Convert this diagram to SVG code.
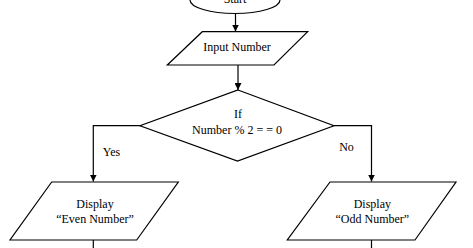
<svg xmlns="http://www.w3.org/2000/svg" width="473" height="248" viewBox="0 0 473 248">
<defs>
<marker id="arr" viewBox="0 0 10 10" refX="10" refY="5" markerWidth="7" markerHeight="7" markerUnits="userSpaceOnUse" orient="auto">
<path d="M0,0 L10,5 L0,10 z" fill="#000"/>
</marker>
</defs>
<style>
.s{fill:#fff;stroke:#000;stroke-width:1.2}
.t{font-family:"Liberation Serif","Times New Roman",serif;font-size:12px;fill:#000;text-anchor:middle}
.c{fill:none;stroke:#000;stroke-width:1.2}
</style>
<rect width="473" height="248" fill="#fff"/>
<g id="connectors">
<line class="c" x1="235.5" y1="13.5" x2="235.5" y2="31.5" marker-end="url(#arr)"/>
<line class="c" x1="238" y1="65" x2="238" y2="90" marker-end="url(#arr)"/>
<polyline class="c" points="140,125.7 93.3,125.7 93.3,181.5" marker-end="url(#arr)"/>
<polyline class="c" points="334,125.7 371.5,125.7 371.5,181.5" marker-end="url(#arr)"/>
<line class="c" x1="93.3" y1="240" x2="93.3" y2="248"/>
<line class="c" x1="371.5" y1="240" x2="371.5" y2="248"/>
<text class="t" x="111.5" y="156">Yes</text>
<text class="t" x="346.5" y="151">No</text>
</g>
<g id="start">
<ellipse class="s" cx="235" cy="0" rx="45" ry="13.5"/>
<text class="t" x="235" y="3">Start</text>
</g>
<g id="input">
<polygon class="s" points="202.3,31.7 307.7,31.7 274,65 167.3,65"/>
<text class="t" x="237" y="51">Input Number</text>
</g>
<g id="decision">
<polygon class="s" points="238,90 334,125.7 237.5,161 140,125.7"/>
<text class="t" x="238" y="118">If</text>
<text class="t" x="237" y="133.5">Number % 2 = = 0</text>
</g>
<g id="even">
<polygon class="s" points="51.7,182 178.3,182 136.7,240 10,240"/>
<text class="t" x="95" y="207.5">Display</text>
<text class="t" x="95" y="222.5">“Even Number”</text>
</g>
<g id="odd">
<polygon class="s" points="330,182 456,182 415,240 287.3,240"/>
<text class="t" x="372.3" y="207.5">Display</text>
<text class="t" x="372.3" y="222.5">“Odd Number”</text>
</g>
</svg>
